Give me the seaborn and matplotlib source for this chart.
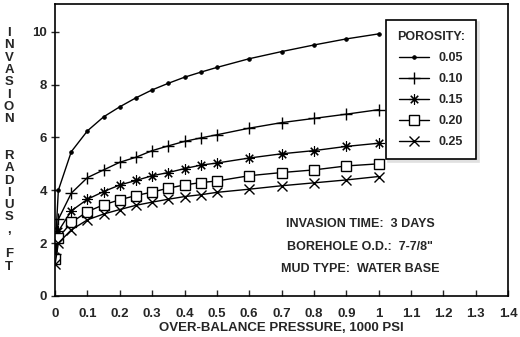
import matplotlib
matplotlib.use("Agg")
import matplotlib.pyplot as plt
import matplotlib.ticker as mticker
import numpy as np
import pandas as pd
import seaborn as sns

# Over-balance pressure, 1000 psi
pressure = [0.0, 0.01, 0.05, 0.1, 0.15, 0.2, 0.25, 0.3, 0.35, 0.4, 0.45, 0.5,
            0.6, 0.7, 0.8, 0.9, 1.0]

# Invasion radius, ft, one list per porosity
r_005 = [1.7, 4.0, 5.46, 6.25, 6.78, 7.16, 7.5, 7.8, 8.05, 8.28, 8.47, 8.65,
         8.98, 9.25, 9.5, 9.73, 9.92]
r_010 = [1.6, 2.9, 3.89, 4.48, 4.77, 5.06, 5.25, 5.5, 5.68, 5.85, 5.98, 6.1,
         6.35, 6.56, 6.72, 6.88, 7.05]
r_015 = [1.5, 2.45, 3.22, 3.66, 3.95, 4.2, 4.37, 4.55, 4.67, 4.82, 4.95, 5.03,
         5.22, 5.38, 5.5, 5.66, 5.78]
r_020 = [1.4, 2.2, 2.78, 3.19, 3.45, 3.64, 3.8, 3.93, 4.08, 4.2, 4.29, 4.35,
         4.55, 4.67, 4.77, 4.92, 5.0]
r_025 = [1.2, 2.0, 2.5, 2.88, 3.1, 3.27, 3.43, 3.55, 3.66, 3.76, 3.83, 3.92,
         4.04, 4.17, 4.28, 4.39, 4.52]

porosity_labels = ["0.05", "0.10", "0.15", "0.20", "0.25"]
series = [r_005, r_010, r_015, r_020, r_025]

notes = ["INVASION TIME:  3 DAYS", "BOREHOLE O.D.:  7-7/8\"", "MUD TYPE:  WATER BASE"]

df = pd.concat(
    [pd.DataFrame({"Pressure": pressure, "Radius": vals, "Porosity": lab})
     for lab, vals in zip(porosity_labels, series)],
    ignore_index=True,
)

sns.set_style("ticks")
plt.rcParams["font.family"] = ["Liberation Sans", "DejaVu Sans"]
plt.rcParams["font.weight"] = "bold"

marker_styles = {
    "0.05": dict(marker="o", markersize=2.5, markerfacecolor="black"),
    "0.10": dict(marker="+", markersize=9, markeredgewidth=1.0),
    "0.15": dict(marker=(8, 2, 0), markersize=7.5, markeredgewidth=0.8),
    "0.20": dict(marker="s", markersize=7, markerfacecolor="white", markeredgewidth=1.0),
    "0.25": dict(marker="x", markersize=7, markeredgewidth=1.0),
}

fig = plt.figure(figsize=(5.2, 3.37), dpi=100)
ax = fig.add_axes([0.106, 0.122, 0.871, 0.866])

for lab in porosity_labels:
    sub = df[df["Porosity"] == lab]
    sns.lineplot(
        data=sub, x="Pressure", y="Radius", color="black", linewidth=1.0,
        markeredgecolor="black", label=lab, ax=ax, **marker_styles[lab],
    )

ax.set_xlim(0, 1.4)
ax.set_ylim(0, 11.05)
ax.xaxis.set_major_locator(mticker.MultipleLocator(0.1))
ax.xaxis.set_major_formatter(mticker.FuncFormatter(lambda v, p: f"{v:g}"))
ax.set_yticks([0, 2, 4, 6, 8, 10])
ax.tick_params(axis="x", direction="in", length=4, width=1, labelsize=9.5, pad=9)
ax.tick_params(axis="y", direction="inout", length=6, width=1, labelsize=9.5, pad=3)
for t in ax.get_xticklabels() + ax.get_yticklabels():
    t.set_fontweight("bold")
for s in ax.spines.values():
    s.set_linewidth(1.2)
    s.set_color("black")

ax.set_xlabel("OVER-BALANCE PRESSURE, 1000 PSI", fontsize=9.5, fontweight="bold", labelpad=1)
ax.set_ylabel("")

leg = ax.legend(
    title="POROSITY:", loc="upper left", bbox_to_anchor=(0.716, 0.968),
    frameon=True, fancybox=False, edgecolor="black", fontsize=9,
    title_fontproperties={"weight": "bold", "size": 9},
    handlelength=2.4, labelspacing=0.72, borderpad=0.9, handletextpad=0.8,
    shadow={"color": "0.88", "alpha": 1},
)
leg.get_frame().set_linewidth(1.2)
for t in leg.get_texts():
    t.set_fontweight("bold")

for i, note in enumerate(notes):
    ax.text(0.673, 0.245 - i * 0.077, note, transform=ax.transAxes, ha="center",
            va="center", fontsize=9, fontweight="bold")

# stacked vertical axis title
ylab = list("INVASION") + ["", ""] + list("RADIUS,") + [""] + list("FT")
for i, ch in enumerate(ylab):
    if ch:
        fig.text(9 / 520, 1 - (33 + i * 12.3) / 337, ch, ha="center", va="center",
                 fontsize=9.5, fontweight="bold")

fig.savefig("out.png", dpi=100)
